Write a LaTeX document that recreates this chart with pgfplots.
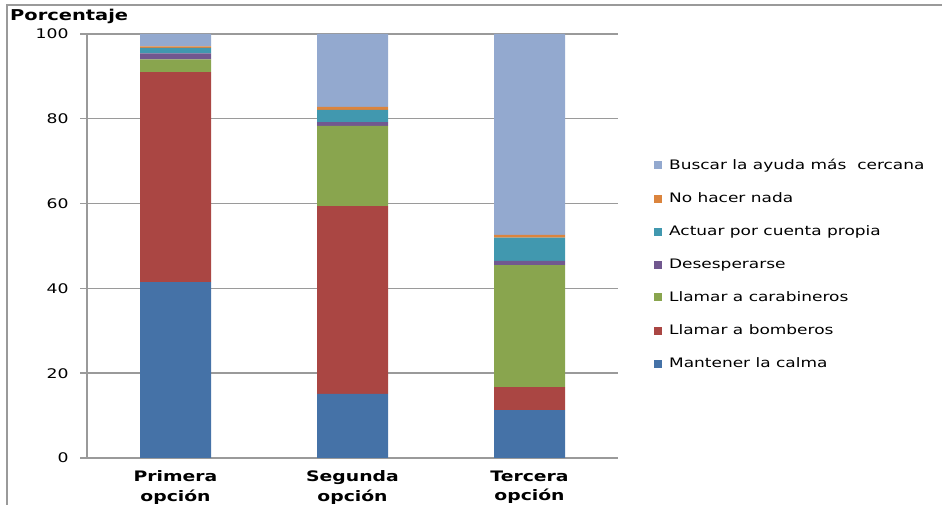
\documentclass[border=0pt]{standalone}
\usepackage{fontspec}
\setmainfont{DejaVu Sans}[FakeStretch=1.3]
\usepackage{pgfplots}
\pgfplotsset{compat=1.18}
\definecolor{cMant}{HTML}{4572A7}
\definecolor{cBomb}{HTML}{AA4643}
\definecolor{cCara}{HTML}{89A54E}
\definecolor{cDese}{HTML}{71588F}
\definecolor{cActu}{HTML}{4198AF}
\definecolor{cNada}{HTML}{DB843D}
\definecolor{cBusc}{HTML}{93A9CF}
\definecolor{lineg}{HTML}{9A9A9A}
\begin{document}
\begin{tikzpicture}[x=1bp,y=1bp]
\useasboundingbox (0,0) rectangle (942,505);
\draw[lineg, line width=1.6bp] (7,-20) -- (7,500) -- (960,500);
\node[anchor=west, inner sep=0pt, font=\bfseries\fontsize{15}{17}\selectfont] at (10,489) {Porcentaje};
\begin{axis}[
  at={(87bp,47bp)}, anchor=south west,
  scale only axis, width=531bp, height=424bp,
  ybar stacked, bar width=71bp,
  xmin=-0.5, xmax=2.5, ymin=0, ymax=100,
  ytick={0,20,...,100},
  ymajorgrids,
  grid style={lineg, line width=1.4bp},
  axis x line*=bottom, axis y line*=left,
  axis line style={lineg, line width=1.4bp, -},
  xtick={0,1,2},
  xticklabels={{Primera\\opción},{Segunda\\opción},{Tercera\\opción}},
  x tick style={draw=none},
  extra x ticks={-0.5,0.5,1.5,2.5},
  extra x tick labels={},
  extra x tick style={x tick style={lineg, line width=1.4bp}, major tick length=6bp, xtick align=outside, grid=none},
  ytick align=outside,
  y tick style={lineg, line width=1.4bp},
  major tick length=7bp,
  /pgf/number format/assume math mode=true,
  yticklabel style={font=\fontsize{13.3}{15}\selectfont, xshift=-8bp},
  xticklabel style={font=\bfseries\fontsize{14.5}{20}\selectfont, align=center, yshift=-9bp},
  legend image code/.code={\fill[#1,draw=none] (0bp,-4bp) rectangle (8bp,4bp);},
  reverse legend,
  legend cell align=left,
  legend style={draw=none, fill=none, at={(1.062,0.717)}, anchor=north west,
    font=\fontsize{13.1}{15}\selectfont, row sep=15.7bp,
    nodes={inner sep=3bp}, /tikz/every odd column/.append style={column sep=4bp}},
]
\addplot[fill=cMant, draw=none] coordinates {(0,41.5) (1,15.1) (2,11.3)};
\addlegendentry{Mantener la calma}
\addplot[fill=cBomb, draw=none] coordinates {(0,49.5) (1,44.3) (2,5.4)};
\addlegendentry{Llamar a bomberos}
\addplot[fill=cCara, draw=none] coordinates {(0,3.0) (1,18.9) (2,28.8)};
\addlegendentry{Llamar a carabineros}
\addplot[fill=cDese, draw=none] coordinates {(0,1.4) (1,0.9) (2,1.0)};
\addlegendentry{Desesperarse}
\addplot[fill=cActu, draw=none] coordinates {(0,1.3) (1,2.9) (2,5.5)};
\addlegendentry{Actuar por cuenta propia}
\addplot[fill=cNada, draw=none] coordinates {(0,0.4) (1,0.7) (2,0.6)};
\addlegendentry{No hacer nada}
\addplot[fill=cBusc, draw=none] coordinates {(0,2.9) (1,17.2) (2,47.4)};
\addlegendentry{Buscar la ayuda más\ \ cercana}
\end{axis}
\end{tikzpicture}
\end{document}
